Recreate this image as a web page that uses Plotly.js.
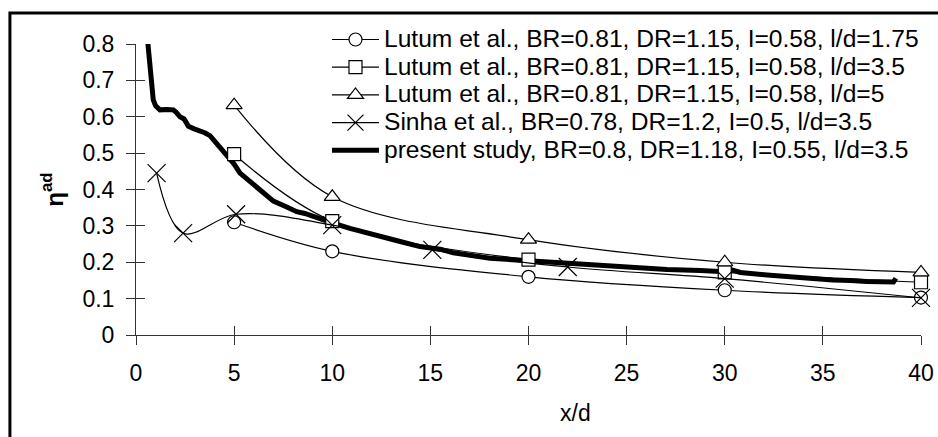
<!DOCTYPE html>
<html>
<head>
<meta charset="utf-8">
<script src="https://cdn.plot.ly/plotly-3.0.1.min.js"></script>
<style>
html,body{margin:0;padding:0;background:#fff;}
#chart{width:938px;height:437px;}
</style>
</head>
<body>
<div id="chart"></div>
<script>
// ---- data ----
const lutumX = [5, 10, 20, 30, 40];
const lutum175 = [0.31, 0.23, 0.16, 0.123, 0.103];
const lutum35 = [0.497, 0.313, 0.207, 0.172, 0.145];
const lutum5 = [0.632, 0.38, 0.262, 0.20, 0.172];

const sinhaX = [1.05, 2.4, 5.1, 10, 15.1, 22, 30, 40];
const sinhaY = [0.445, 0.28, 0.332, 0.302, 0.234, 0.187, 0.155, 0.102];

const presentX = [0.52, 0.65, 0.78, 0.88, 1.0, 1.22, 1.6, 1.9, 2.05, 2.24, 2.45, 2.67, 3.0, 3.26, 3.5, 3.77, 4.2, 4.62, 5.0, 5.3, 5.98, 6.66, 7.0, 7.68, 8.19, 8.6, 9.04, 9.55, 10.0, 10.9, 11.6, 12.44, 13.0, 13.46, 14.47, 15.5, 16.17, 17.1, 18.04, 19.4, 20.6, 21.4, 22.29, 23.99, 25.5, 27.05, 28.75, 30.0, 30.3, 30.8, 32.15, 33.8, 35.5, 36.4, 37.24, 38.6, 38.72];
const presentY = [0.85, 0.78, 0.70, 0.646, 0.63, 0.619, 0.62, 0.619, 0.612, 0.60, 0.594, 0.574, 0.566, 0.562, 0.556, 0.548, 0.52, 0.49, 0.47, 0.445, 0.415, 0.385, 0.368, 0.352, 0.339, 0.334, 0.325, 0.316, 0.308, 0.293, 0.284, 0.270, 0.266, 0.257, 0.243, 0.236, 0.226, 0.219, 0.211, 0.206, 0.202, 0.199, 0.195, 0.188, 0.183, 0.180, 0.177, 0.174, 0.180, 0.172, 0.165, 0.157, 0.151, 0.150, 0.147, 0.146, 0.156];

const names = [
  'Lutum et al., BR=0.81, DR=1.15, I=0.58, l/d=1.75',
  'Lutum et al., BR=0.81, DR=1.15, I=0.58, l/d=3.5',
  'Lutum et al., BR=0.81, DR=1.15, I=0.58, l/d=5',
  'Sinha et al., BR=0.78, DR=1.2, I=0.5, l/d=3.5',
  'present study, BR=0.8, DR=1.18, I=0.55, l/d=3.5'
];
const xTitle = 'x/d';
const yTitle = '<b>η<sup>ad</sup></b>';

// ---- chart ----
const FONT = 'Liberation Sans, Arial, sans-serif';
const big = s => '<span style="font-size:24.6px">' + s + '</span>';
const thin = {color: '#000', width: 1.2, shape: 'spline'};
const mk = (sym, size) => ({symbol: sym, size: size, color: '#fff', line: {color: '#000', width: 1.2}});

const traces = [
  {x: presentX, y: presentY, mode: 'lines', name: big(names[4]), legendrank: 5,
   line: {color: '#000', width: 5}},
  {x: lutumX, y: lutum175, mode: 'lines+markers', name: big(names[0]), legendrank: 1,
   line: thin, marker: mk('circle', 13), cliponaxis: false},
  {x: lutumX, y: lutum35, mode: 'lines+markers', name: big(names[1]), legendrank: 2,
   line: thin, marker: mk('square', 13), cliponaxis: false},
  {x: lutumX, y: lutum5, mode: 'lines+markers', name: big(names[2]), legendrank: 3,
   line: thin, marker: mk('triangle-up', 14), cliponaxis: false},
  {x: sinhaX, y: sinhaY, mode: 'lines+markers', name: big(names[3]), legendrank: 4,
   line: thin, marker: {symbol: 'x-thin-open', size: 18, color: '#000', line: {color: '#000', width: 1.2}}, cliponaxis: false},
  {x: [], y: [], xaxis: 'x2', yaxis: 'y2', showlegend: false, hoverinfo: 'skip'}
];

const axCommon = {showgrid: false, zeroline: false, tickcolor: '#333', tickwidth: 1, ticklen: 9};

const layout = {
  width: 938, height: 437,
  margin: {l: 136, r: 17, t: 44, b: 102},
  paper_bgcolor: '#fff', plot_bgcolor: '#fff',
  font: {family: FONT, color: '#000', size: 23},
  showlegend: true,
  legend: {x: 0.2433, xanchor: 'left', y: 1.0803, yanchor: 'top', bgcolor: 'rgba(0,0,0,0)',
           font: {size: 19, family: FONT, color: '#000'}, tracegroupgap: 0, itemwidth: 47},
  xaxis: Object.assign({}, axCommon, {range: [0, 40], tick0: 0, dtick: 5, ticks: 'outside',
          showline: true, linecolor: '#333', linewidth: 1, ticklabelstandoff: 8,
          tickfont: {size: 23, family: FONT}}),
  yaxis: Object.assign({}, axCommon, {range: [0, 0.8], tick0: 0, dtick: 0.1, ticks: 'outside',
          showline: true, linecolor: '#333', linewidth: 1, ticklabelstandoff: 7,
          tickfont: {size: 23, family: FONT},
          title: {text: yTitle, font: {size: 24, family: FONT}, standoff: 12}}),
  xaxis2: Object.assign({}, axCommon, {range: [0, 40], tick0: 0, dtick: 5, ticks: 'inside',
          overlaying: 'x', anchor: 'y2', side: 'bottom', showticklabels: false, showline: false}),
  yaxis2: Object.assign({}, axCommon, {range: [0, 0.8], tick0: 0, dtick: 0.1, ticks: 'inside',
          overlaying: 'y', anchor: 'x2', side: 'left', showticklabels: false, showline: false}),
  annotations: [
    {text: xTitle, xref: 'paper', yref: 'paper', x: 0.5594, y: -0.268, xanchor: 'center', yanchor: 'middle',
     showarrow: false, font: {size: 23, family: FONT, color: '#000'}}
  ],
  shapes: [
    {type: 'rect', xref: 'paper', yref: 'paper', x0: -0.1606, x1: 1.2, y0: -0.6, y1: 1.1065,
     line: {color: '#000', width: 3}, fillcolor: 'rgba(0,0,0,0)', layer: 'above'}
  ]
};

Plotly.newPlot('chart', traces, layout, {staticPlot: true, displayModeBar: false});
</script>
</body>
</html>
